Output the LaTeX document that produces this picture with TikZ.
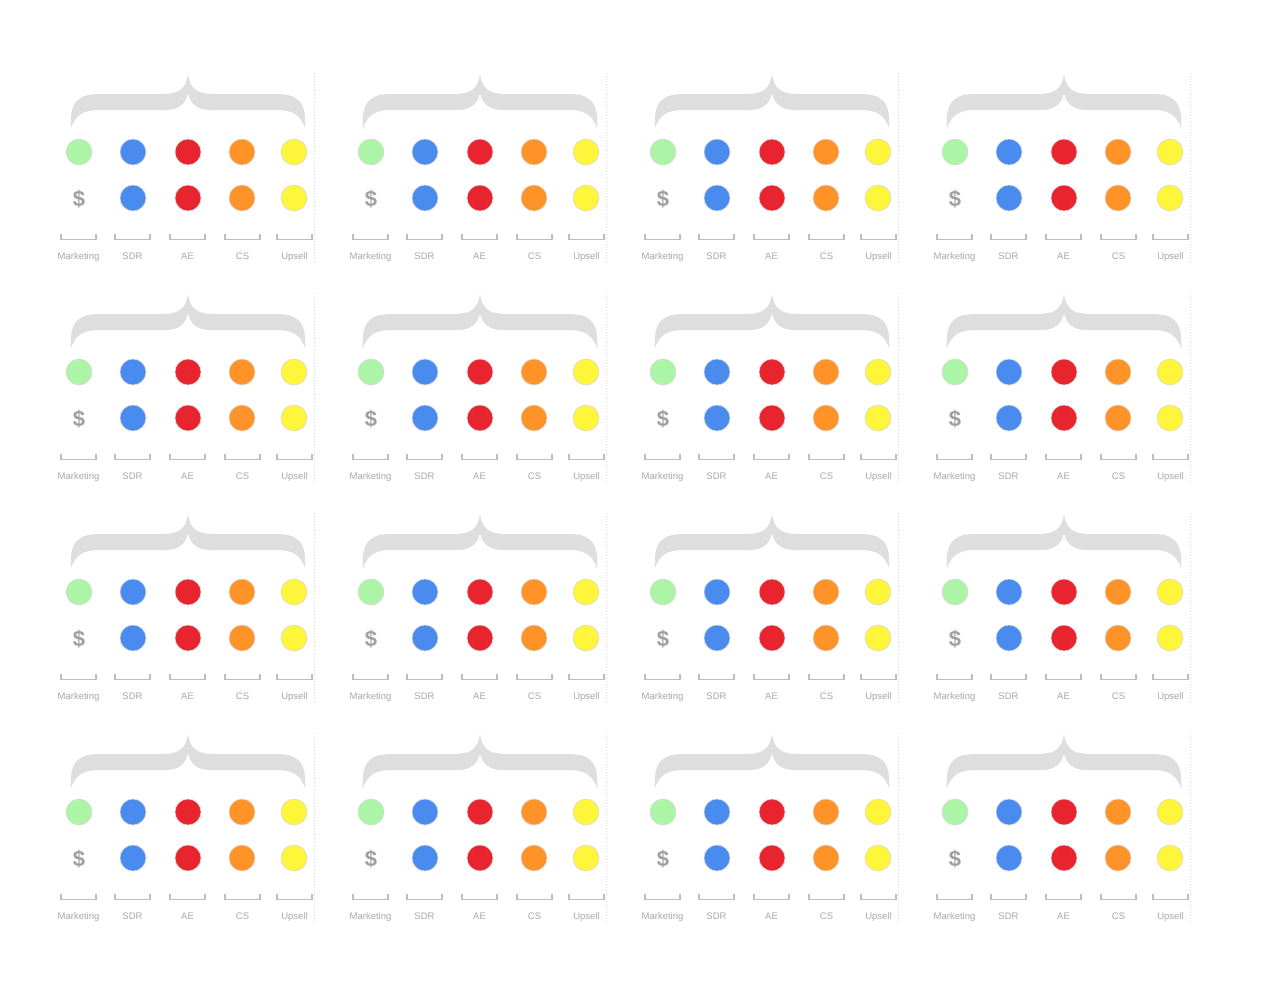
\documentclass[tikz,border=0pt]{standalone}
\usepackage{fontspec}
\setmainfont{Liberation Sans}
\definecolor{cgreen}{HTML}{ADF5A6}
\definecolor{cblue}{HTML}{4A8BF0}
\definecolor{cred}{HTML}{E8242F}
\definecolor{corange}{HTML}{FF9328}
\definecolor{cyellow}{HTML}{FFF53A}
\definecolor{bracegray}{HTML}{DEDEDE}
\definecolor{linegray}{HTML}{BDBDBD}
\definecolor{labelgray}{HTML}{A8A8A8}
\definecolor{dollargray}{HTML}{A0A0A0}
\tikzset{
  dot/.style={circle, minimum size=26pt, inner sep=0pt, draw=gray!30, line width=0.6pt},
  lbl/.style={font=\fontsize{9.5}{10}\selectfont, text=labelgray, inner sep=0pt, anchor=base},
  dollar/.style={font=\fontsize{22}{24}\selectfont\bfseries, text=dollargray, inner sep=0pt},
  bkt/.style={draw=linegray, line width=1.4pt},
  sepline/.style={draw=gray!30, dotted, line width=0.8pt},
  panel/.pic={
    \fill[bracegray] (71,128) .. controls (69,100) and (80,94) .. (100,94) -- (162,94)
      .. controls (180,94) and (186,88) .. (188,74)
      .. controls (190,88) and (196,94) .. (214,94) -- (276,94)
      .. controls (296,94) and (307,100) .. (305,128)
      .. controls (300,114) and (292,110) .. (276,110) -- (210,110)
      .. controls (198,110) and (190,104) .. (188,93)
      .. controls (186,104) and (178,110) .. (166,110) -- (100,110)
      .. controls (84,110) and (76,114) .. (71,128) -- cycle;
    \node[dot, fill=cgreen]  (-a1) at (79,152) {};
    \node[dot, fill=cblue]   (-b1) at (133,152) {};
    \node[dot, fill=cred]    (-c1) at (188,152) {};
    \node[dot, fill=corange] (-d1) at (242,152) {};
    \node[dot, fill=cyellow] (-e1) at (294,152) {};
    \node[dollar]            (-a2) at (79,199) {\$};
    \node[dot, fill=cblue]   (-b2) at (133,198) {};
    \node[dot, fill=cred]    (-c2) at (188,198) {};
    \node[dot, fill=corange] (-d2) at (242,198) {};
    \node[dot, fill=cyellow] (-e2) at (294,198) {};
    \foreach \cx/\t/\n in {78.5/Marketing/a, 132.5/SDR/b, 187.5/AE/c, 242.5/CS/d, 294.5/Upsell/e}{
      \draw[bkt] (\cx-17.5,234) -- (\cx-17.5,239.5) -- (\cx+17.5,239.5) -- (\cx+17.5,234);
      \node[lbl] (-\n3) at (\cx,259) {\t};
    }
    \draw[sepline] (314,73) -- (314,263);
  }
}
\begin{document}
\begin{tikzpicture}[x=1pt,y=-1pt]
\useasboundingbox[fill=white] (0,0) rectangle (1280,999);
\foreach \r in {0,1,2,3}{
  \foreach \c in {0,1,2,3}{
    \pic (p\r\c) at (\c*292,\r*220) {panel};
  }
}
\end{tikzpicture}
\end{document}
